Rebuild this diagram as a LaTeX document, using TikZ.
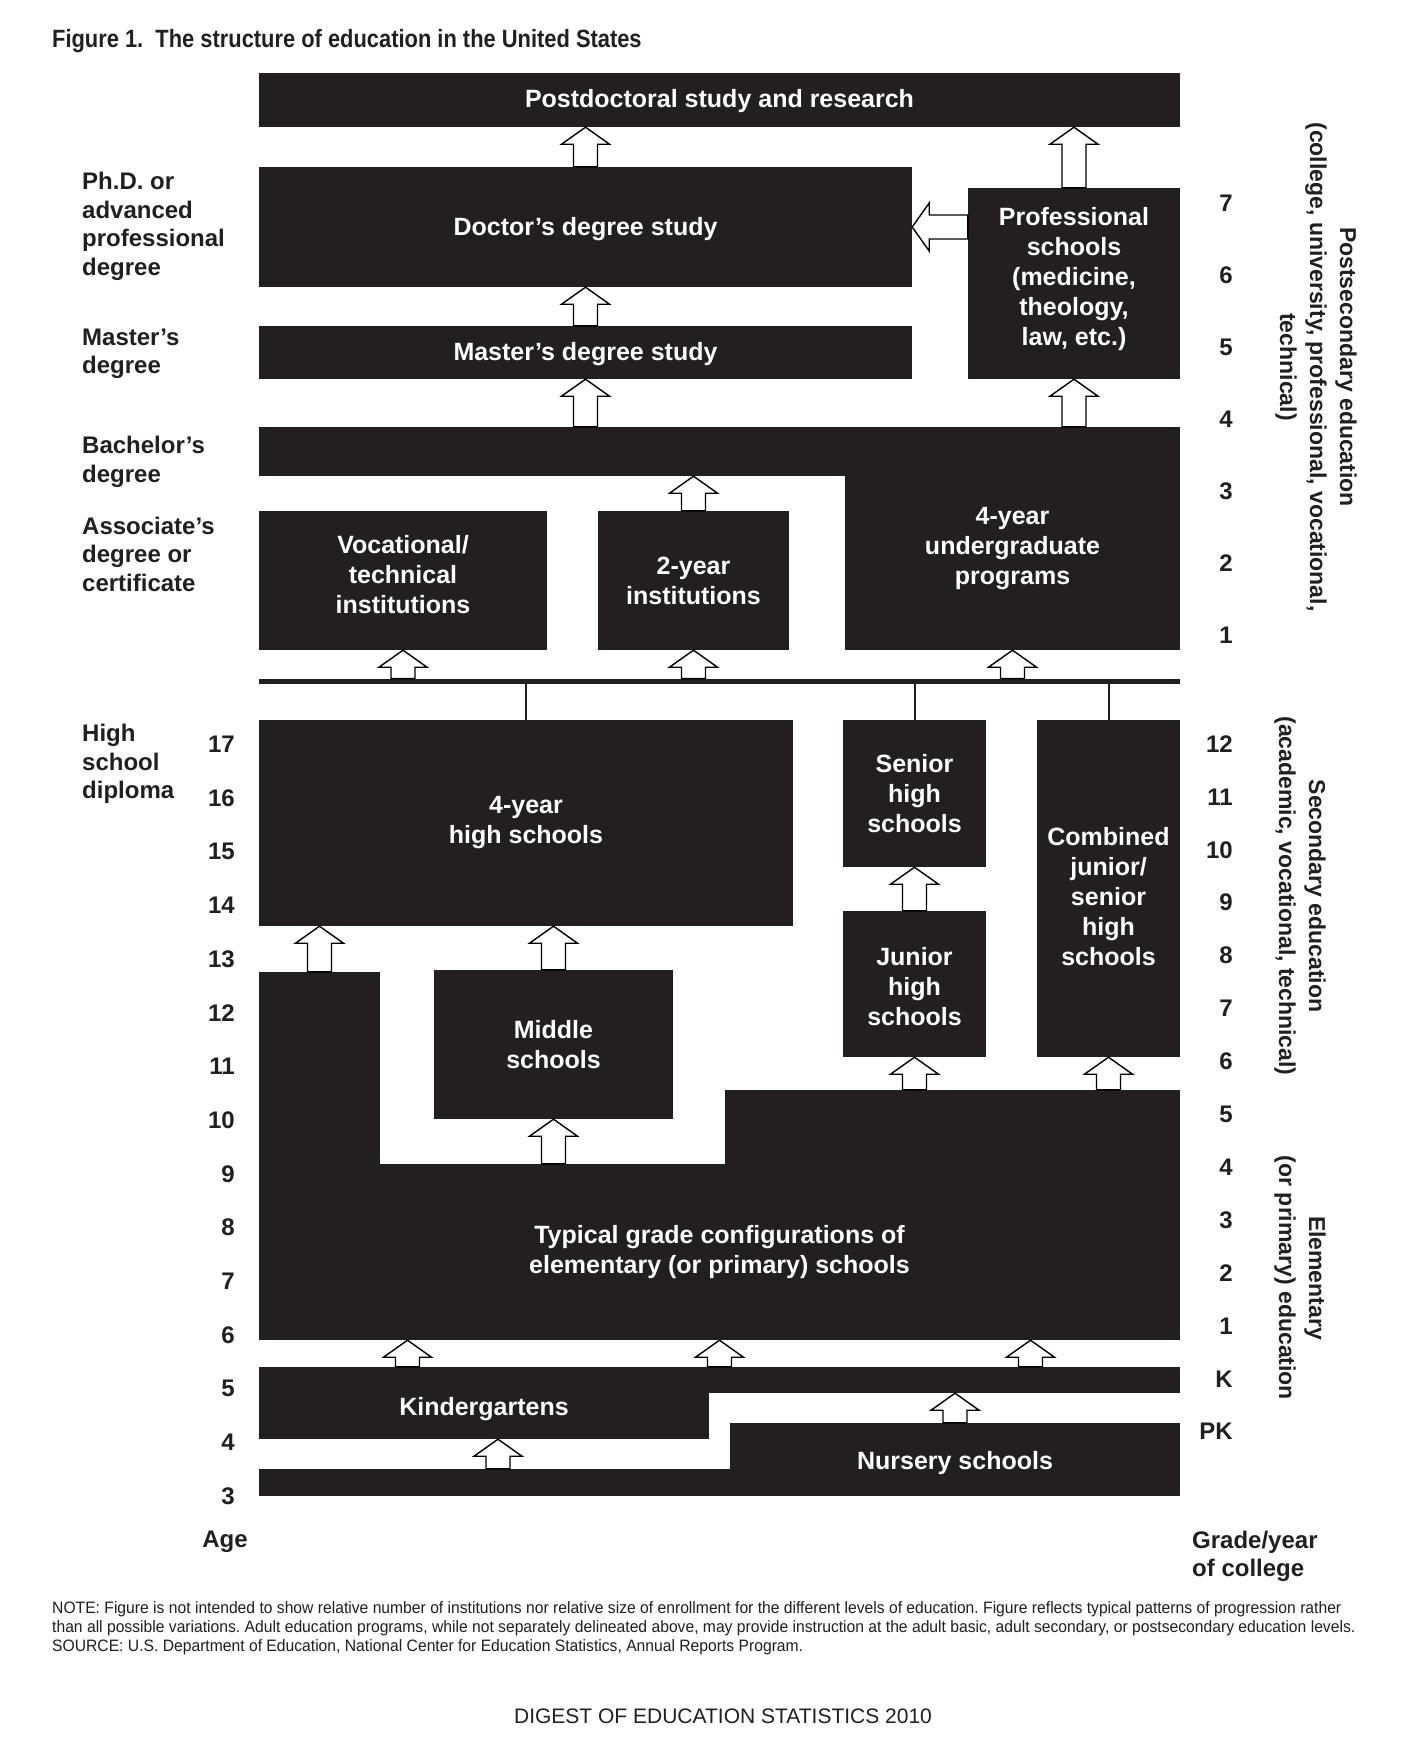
\documentclass[tikz,border=0pt]{standalone}
\usepackage{fontspec}
\setmainfont{Liberation Sans}
\usetikzlibrary{calc,positioning}

\definecolor{boxblack}{RGB}{35,31,32}

\begin{document}
\frenchspacing
\begin{tikzpicture}[x=1pt,y=-1pt,
  box/.style={rectangle,fill=boxblack,text=white,inner sep=0pt,align=center,
    font=\fontsize{25}{30}\selectfont\bfseries},
  txt/.style={text=white,inner sep=0pt,align=center,
    font=\fontsize{25}{30}\selectfont\bfseries},
  lab/.style={text=boxblack,inner sep=0pt,align=left,anchor=west,
    font=\fontsize{24}{28.5}\selectfont\bfseries},
  num/.style={text=boxblack,inner sep=0pt,anchor=east,
    font=\fontsize{24}{28}\selectfont\bfseries},
  side/.style={text=boxblack,inner sep=0pt,align=center,rotate=-90,
    font=\fontsize{23}{30}\selectfont\bfseries},
  blk/.style={draw=black,fill=white,line width=1.4pt,
    to path={($(\tikztotarget)!17pt!(\tikztostart)$) coordinate (hb)
      ($(\tikztostart)!12pt!90:(\tikztotarget)$)
      -- ($(hb)!12pt!90:(\tikztotarget)$) -- ($(hb)!24pt!90:(\tikztotarget)$)
      -- (\tikztotarget)
      -- ($(hb)!24pt!-90:(\tikztotarget)$) -- ($(hb)!12pt!-90:(\tikztotarget)$)
      -- ($(\tikztostart)!12pt!-90:(\tikztotarget)$) -- cycle}},
  rule/.style={draw=boxblack,line width=2pt}]

  \fill[white] (0,0) rectangle (1426,1762);
  \useasboundingbox (0,0) rectangle (1426,1762);

  \node[anchor=west,inner sep=0pt,xscale=0.875,text=boxblack,
    font=\fontsize{25}{30}\selectfont\bfseries] (title) at (52,41)
    {Figure 1.~ The structure of education in the United States};

  % postsecondary
  \node[box,minimum width=921pt,minimum height=54pt,
    label={[txt,yshift=-1.5pt]center:Postdoctoral study and research}] (post) at (719.5,100) {};
  \node[box,minimum width=653pt,minimum height=120pt,
    label={[txt,yshift=-2pt]center:Doctor's degree study}] (doc) at (585.5,227) {};
  \node[box,minimum width=212pt,minimum height=191pt,
    label={[txt,yshift=4.5pt]center:{Professional\\schools\\(medicine,\\theology,\\law, etc.)}}] (prof) at (1074,283.5) {};
  \node[box,minimum width=653pt,minimum height=53pt,
    label={[txt,yshift=-2pt]center:Master's degree study}] (mas) at (585.5,352.5) {};
  \node[box,minimum width=921pt,minimum height=49pt] (bach) at (719.5,451.5) {};
  \node[box,minimum width=335pt,minimum height=223pt,
    label={[txt,yshift=-10pt]center:{4-year\\undergraduate\\programs}}] (ug) at (1012.5,538.5) {};
  \node[box,minimum width=288pt,minimum height=139pt,
    label={[txt,yshift=5.6pt]center:{Vocational/\\technical\\institutions}}] (voc) at (403,580.5) {};
  \node[box,minimum width=191pt,minimum height=139pt] (two) at (693.5,580.5)
    {2-year\\institutions};
  \node[box,minimum width=921pt,minimum height=5.5pt] (bar) at (719.5,681.5) {};

  % secondary
  \node[box,minimum width=534pt,minimum height=206pt] (hs4) at (526,823) {4-year\\high schools};
  \node[box,minimum width=143pt,minimum height=147pt] (sen) at (914.5,793.5) {Senior\\high\\schools};
  \node[box,minimum width=143pt,minimum height=337pt,
    label={[txt,yshift=-8pt]center:{Combined\\junior/\\senior\\high\\schools}}] (comb) at (1108.5,888.5) {};
  \node[box,minimum width=143pt,minimum height=146pt,
    label={[txt,yshift=-2.5pt]center:{Junior\\high\\schools}}] (jun) at (914.5,984) {};
  \node[box,minimum width=239pt,minimum height=149pt] (mid) at (553.5,1044.5) {Middle\\schools};

  % elementary and preprimary
  \node[box,minimum width=121pt,minimum height=368pt] (elemL) at (319.5,1156) {};
  \node[box,minimum width=455pt,minimum height=250pt] (elemR) at (952.5,1215) {};
  \node[box,minimum width=921pt,minimum height=176pt] (elem) at (719.5,1252)
    {Typical grade configurations of\\elementary (or primary) schools};
  \node[box,minimum width=921pt,minimum height=26pt] (kbar) at (719.5,1380) {};
  \node[box,minimum width=450pt,minimum height=72pt,
    label={[txt,yshift=-5.6pt]center:Kindergartens}] (kin) at (484,1403) {};
  \node[box,minimum width=921pt,minimum height=27pt] (nbar) at (719.5,1482.5) {};
  \node[box,minimum width=450pt,minimum height=73pt,
    label={[txt,yshift=-3.4pt]center:Nursery schools}] (nur) at (955,1459.5) {};

  \coordinate (ka) at (407.5,0);
  \coordinate (kb) at (719.5,0);
  \coordinate (kc) at (1030.5,0);
  \coordinate (kd) at (498,0);

  % block arrows
  \path (doc.north) edge[blk] (post.south -| doc.north)
    (prof.north) edge[blk] (post.south -| prof.north)
    (prof.west |- doc.east) edge[blk] (doc.east)
    (mas.north) edge[blk] (doc.south -| mas.north)
    (bach.north -| mas.south) edge[blk] (mas.south)
    (ug.north -| prof.south) edge[blk] (prof.south)
    (two.north) edge[blk] (bach.south -| two.north)
    (bar.north -| voc.south) edge[blk] (voc.south)
    (bar.north -| two.south) edge[blk] (two.south)
    (bar.north -| ug.south) edge[blk] (ug.south)
    (jun.north) edge[blk] (sen.south)
    (elemL.north) edge[blk] (hs4.south -| elemL.north)
    (mid.north) edge[blk] (hs4.south -| mid.north)
    (elem.north -| mid.south) edge[blk] (mid.south)
    (elemR.north -| jun.south) edge[blk] (jun.south)
    (elemR.north -| comb.south) edge[blk] (comb.south)
    (kbar.north -| ka) edge[blk] (elem.south -| ka)
    (kbar.north -| kb) edge[blk] (elem.south -| kb)
    (kbar.north -| kc) edge[blk] (elem.south -| kc)
    (nur.north) edge[blk] (kbar.south -| nur.north)
    (nbar.north -| kd) edge[blk] (kin.south -| kd);

  \path[rule] (bar.south -| hs4.north) edge (hs4.north)
    (bar.south -| sen.north) edge (sen.north)
    (bar.south -| comb.north) edge (comb.north);

  % degrees
  \node[lab] (phd) at (82,226.5) {Ph.D. or\\advanced\\professional\\degree};
  \node[lab] (msd) at (82,354) {Master's\\degree};
  \node[lab] (bad) at (82,462) {Bachelor's\\degree};
  \node[lab] (asd) at (82,554) {Associate's\\degree or\\certificate};
  \node[lab] (hsd) at (82,764) {High\\school\\diploma};

  % ages and grades
  \foreach \a in {3,...,17}
    \node[num] (age\a) at (235,{1496-(\a-3)*53.7}) {\a};
  \foreach \g [count=\i from 0] in {12,11,10,9,8,7,6,5,4,3,2,1,K,PK}
    \node[num] (gr\i) at (1233,{744+\i*52.9}) {\g};
  \foreach \g in {1,...,7}
    \node[num] (cy\g) at (1233,{203+(7-\g)*72}) {\g};

  \node[num,anchor=center] (age) at (225,1542) {Age};
  \node[lab,font=\fontsize{24}{28}\selectfont\bfseries] (grade) at (1192,1556) {Grade/year\\of college};

  \node[side] (pse) at (1316,367)
    {Postsecondary education\\(college, university, professional, vocational,\\technical)};
  \node[side] (sce) at (1300,896) {Secondary education\\(academic, vocational, technical)};
  \node[side] (ele) at (1300,1278) {Elementary\\(or primary) education};

  \node[anchor=west,inner sep=0pt,align=left,xscale=0.95,text=boxblack,
    font=\fontsize{16.5}{19}\selectfont] (note) at (52,1628)
    {NOTE: Figure is not intended to show relative number of institutions nor relative size of enrollment for the different levels of education. Figure reflects typical patterns of progression rather\\
     than all possible variations. Adult education programs, while not separately delineated above, may provide instruction at the adult basic, adult secondary, or postsecondary education levels.\\
     SOURCE: U.S. Department of Education, National Center for Education Statistics, Annual Reports Program.};

  \node[inner sep=0pt,text=boxblack,font=\fontsize{21}{25}\selectfont] (digest) at (723,1716)
    {DIGEST OF EDUCATION STATISTICS 2010};

\end{tikzpicture}
\end{document}
